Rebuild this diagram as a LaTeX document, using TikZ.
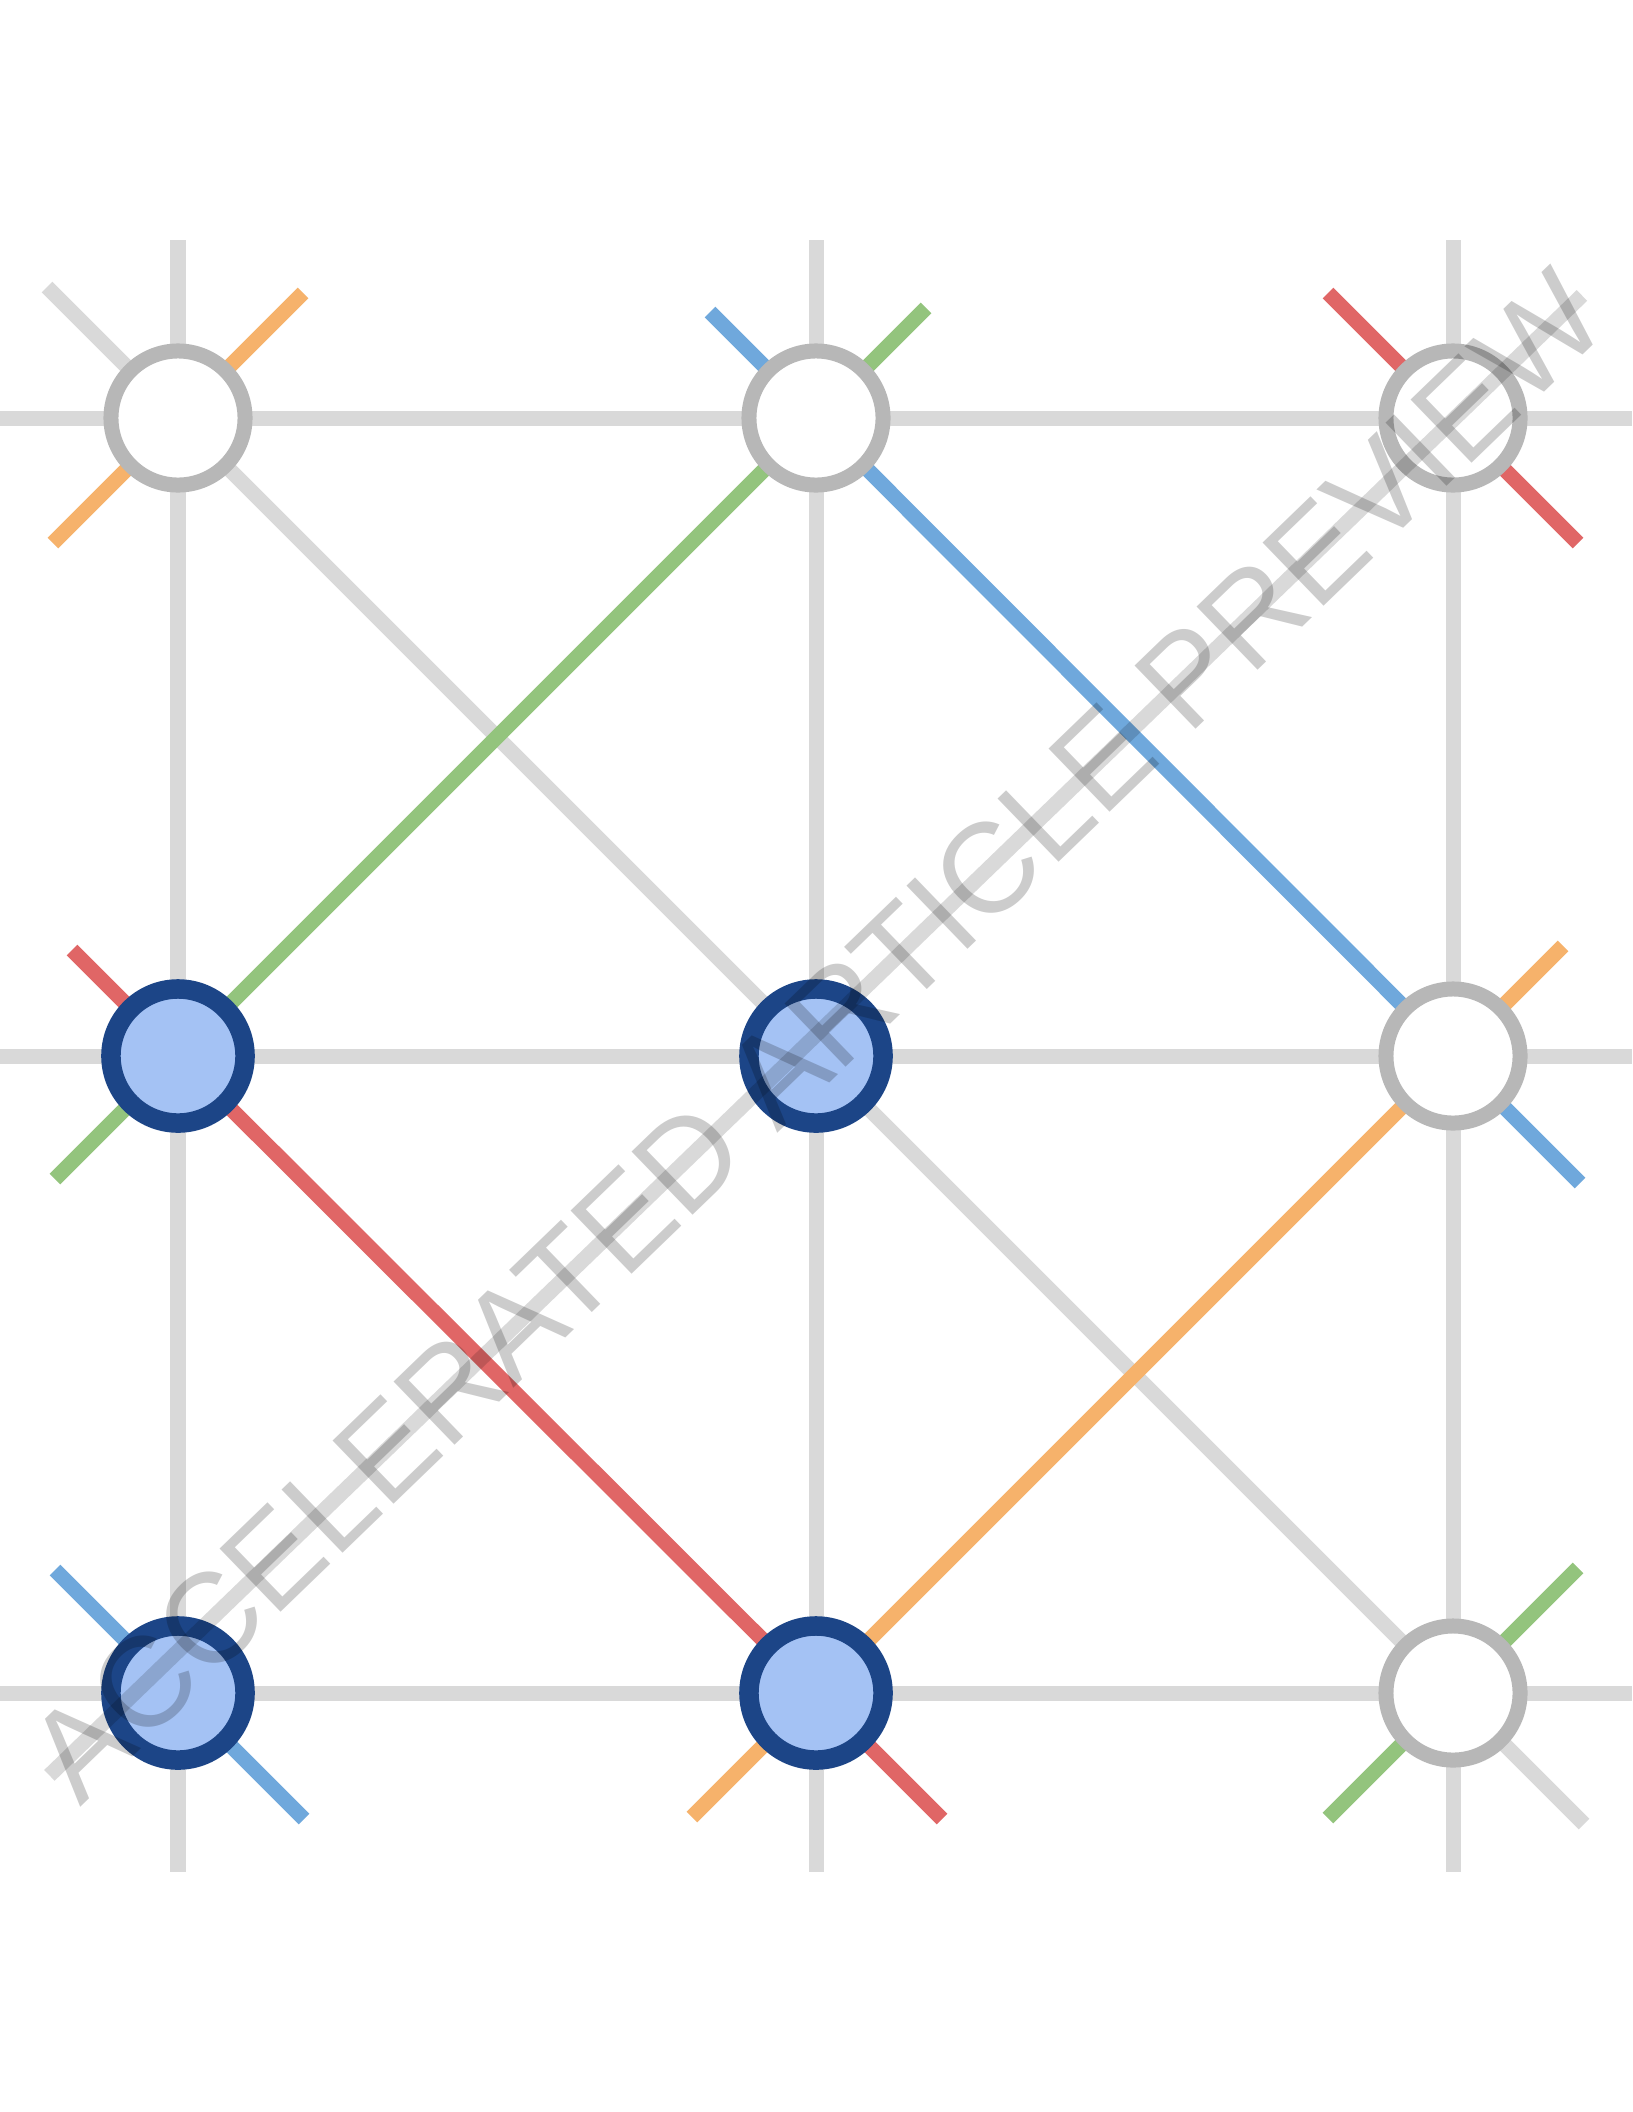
\documentclass[tikz,border=0pt]{standalone}
\usepackage{fontspec}
\newfontfamily\wmfont{Liberation Sans}
\usetikzlibrary{calc}
\pgfdeclarelayer{background}
\pgfsetlayers{background,main}
\definecolor{gridgray}{HTML}{D9D9D9}
\definecolor{nodegray}{HTML}{B7B7B7}
\definecolor{lorange}{HTML}{F6B26B}
\definecolor{lgreen}{HTML}{93C47D}
\definecolor{lblue}{HTML}{6FA8DC}
\definecolor{lred}{HTML}{E06666}
\definecolor{dblue}{HTML}{1C4587}
\definecolor{fblue}{HTML}{A4C2F4}
\begin{document}
\begin{tikzpicture}[x=0.01cm,y=-0.01cm,
  gridline/.style={draw=gridgray,line width=0.15cm},
  linkline/.style={line width=0.15cm},
  emptynode/.style={circle,draw=nodegray,fill=white,line width=0.15cm,minimum size=1.34cm,inner sep=0pt,outer sep=0pt},
  fullnode/.style={circle,draw=dblue,fill=fblue,line width=0.195cm,minimum size=1.34cm,inner sep=0pt,outer sep=0pt},
  wmtext/.style={rotate=44,anchor=base west,inner sep=0pt,outer sep=0pt,text=black,text opacity=0.2,font=\wmfont\fontsize{36.3pt}{40pt}\selectfont},
  wmline/.style={draw=black,draw opacity=0.15,line width=0.15cm}
]
\useasboundingbox (0,0) rectangle (1632,2112);
% nodes
\node[emptynode] (A) at (178,418) {};
\node[emptynode] (B) at (816,418) {};
\node[emptynode] (C) at (1453,418) {};
\node[fullnode] (D) at (178,1056) {};
\node[fullnode] (E) at (816,1056) {};
\node[emptynode] (F) at (1453,1056) {};
\node[fullnode] (G) at (178,1693) {};
\node[fullnode] (H) at (816,1693) {};
\node[emptynode] (I) at (1453,1693) {};
% grid ends
\coordinate (v1t) at (178,240); \coordinate (v1b) at (178,1872);
\coordinate (v2t) at (816,240); \coordinate (v2b) at (816,1872);
\coordinate (v3t) at (1453,240); \coordinate (v3b) at (1453,1872);
\coordinate (h1l) at (0,418); \coordinate (h1r) at (1632,418);
\coordinate (h2l) at (0,1056); \coordinate (h2r) at (1632,1056);
\coordinate (h3l) at (0,1693); \coordinate (h3r) at (1632,1693);
% stub ends
\coordinate (sAul) at ($(A)+(-131,-131)$);
\coordinate (sAur) at ($(A)+(125,-125)$);
\coordinate (sAll) at ($(A)+(-125,125)$);
\coordinate (sBul) at ($(B)+(-106,-106)$);
\coordinate (sBur) at ($(B)+(110,-110)$);
\coordinate (sCul) at ($(C)+(-125,-125)$);
\coordinate (sClr) at ($(C)+(125,125)$);
\coordinate (sDul) at ($(D)+(-106,-106)$);
\coordinate (sDll) at ($(D)+(-123,123)$);
\coordinate (sFur) at ($(F)+(110,-110)$);
\coordinate (sFlr) at ($(F)+(127,127)$);
\coordinate (sGul) at ($(G)+(-123,-123)$);
\coordinate (sGlr) at ($(G)+(126,126)$);
\coordinate (sHll) at ($(H)+(-124,124)$);
\coordinate (sHlr) at ($(H)+(126,126)$);
\coordinate (sIur) at ($(I)+(125,-125)$);
\coordinate (sIll) at ($(I)+(-125,125)$);
\coordinate (sIlr) at ($(I)+(131,131)$);
\begin{pgfonlayer}{background}
\fill[white] (0,0) rectangle (1632,2112);
% grid
\draw[gridline] (v1t) -- (v1b);
\draw[gridline] (v2t) -- (v2b);
\draw[gridline] (v3t) -- (v3b);
\draw[gridline] (h1l) -- (h1r);
\draw[gridline] (h2l) -- (h2r);
\draw[gridline] (h3l) -- (h3r);
\draw[gridline] (A.center) -- (E.center) -- (I.center);
\draw[gridline] (A.center) -- (sAul);
\draw[gridline] (I.center) -- (sIlr);
% green
\draw[linkline,lgreen] (D.center) -- (B.center);
\draw[linkline,lgreen] (B.center) -- (sBur);
\draw[linkline,lgreen] (D.center) -- (sDll);
\draw[linkline,lgreen] (sIll) -- (sIur);
% blue
\draw[linkline,lblue] (B.center) -- (F.center);
\draw[linkline,lblue] (B.center) -- (sBul);
\draw[linkline,lblue] (F.center) -- (sFlr);
\draw[linkline,lblue] (sGul) -- (sGlr);
% red
\draw[linkline,lred] (D.center) -- (H.center);
\draw[linkline,lred] (D.center) -- (sDul);
\draw[linkline,lred] (H.center) -- (sHlr);
\draw[linkline,lred] (sCul) -- (sClr);
% orange
\draw[linkline,lorange] (H.center) -- (F.center);
\draw[linkline,lorange] (F.center) -- (sFur);
\draw[linkline,lorange] (H.center) -- (sHll);
\draw[linkline,lorange] (sAll) -- (sAur);
\end{pgfonlayer}
% watermark
\node[wmtext] (wm) at (80,1807) {ACCELERATED ARTICLE PREVIEW};
\draw[wmline] ($(wm.base west)!0.44cm!90:(wm.base east)$) -- ($(wm.base east)!0.44cm!-90:(wm.base west)$);
\end{tikzpicture}
\end{document}
